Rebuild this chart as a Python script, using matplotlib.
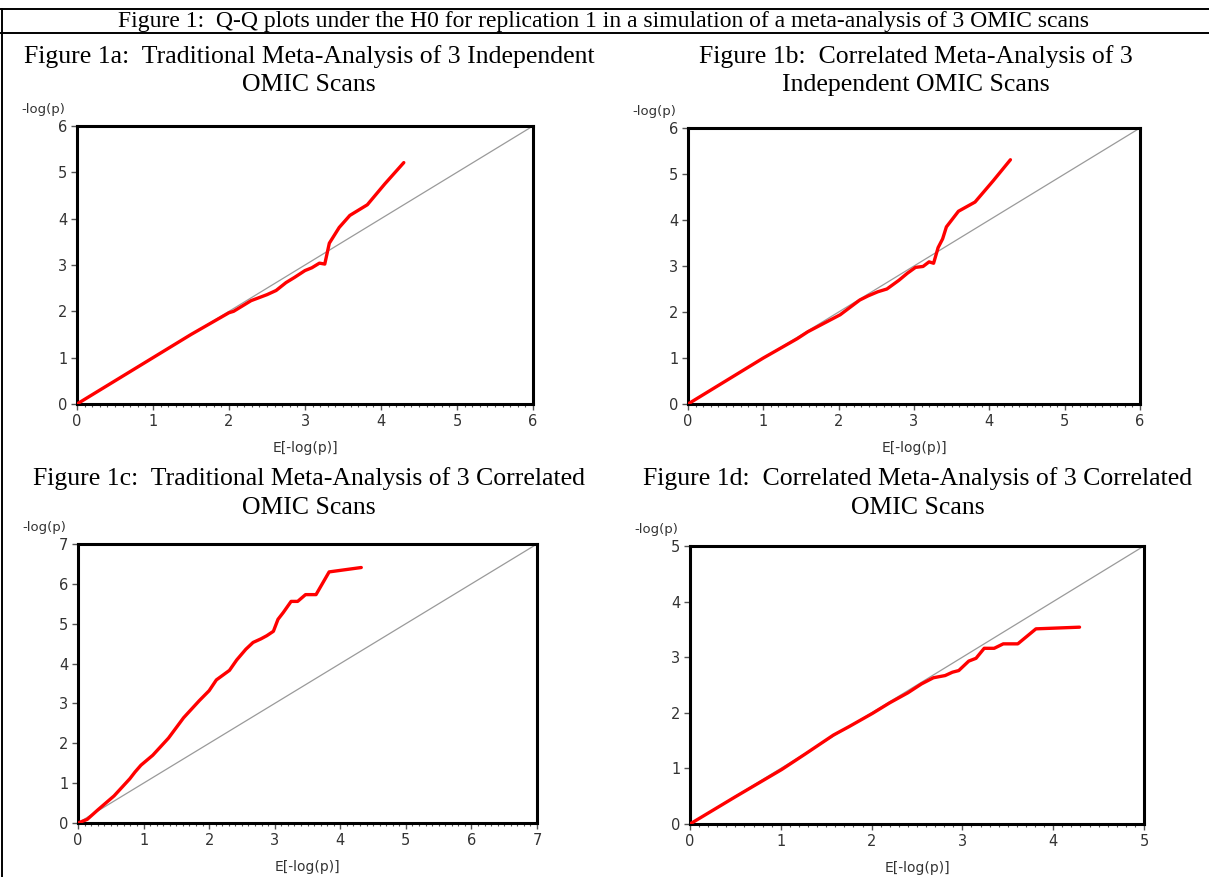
import matplotlib
matplotlib.use("Agg")
import matplotlib.pyplot as plt
import matplotlib.ticker as mticker
from matplotlib.lines import Line2D

W, H = 1209, 877

main_title = "Figure 1:  Q-Q plots under the H0 for replication 1 in a simulation of a meta-analysis of 3 OMIC scans"
panel_titles = [
    "Figure 1a:  Traditional Meta-Analysis of 3 Independent\nOMIC Scans",
    "Figure 1b:  Correlated Meta-Analysis of 3\nIndependent OMIC Scans",
    "Figure 1c:  Traditional Meta-Analysis of 3 Correlated\nOMIC Scans",
    "Figure 1d:  Correlated Meta-Analysis of 3 Correlated\nOMIC Scans",
]
axis_max = [6, 6, 7, 5]

qq_a_x = [0, 0.5, 1.0, 1.5, 2.0, 2.06, 2.29, 2.5, 2.62, 2.75, 2.86, 3.0, 3.09, 3.19, 3.26,
          3.32, 3.45, 3.59, 3.82, 4.05, 4.30]
qq_a_y = [0, 0.5, 1.0, 1.5, 1.97, 2.0, 2.23, 2.36, 2.45, 2.62, 2.73, 2.88, 2.94, 3.04, 3.02,
          3.47, 3.81, 4.07, 4.30, 4.75, 5.21]

qq_b_x = [0, 0.5, 1.0, 1.45, 1.59, 2.02, 2.28, 2.39, 2.52, 2.64, 2.8, 2.91, 3.02, 3.12, 3.2,
          3.26, 3.32, 3.38, 3.43, 3.59, 3.81, 4.05, 4.28]
qq_b_y = [0, 0.5, 1.0, 1.42, 1.57, 1.94, 2.26, 2.35, 2.44, 2.50, 2.69, 2.84, 2.97, 2.99, 3.09,
          3.06, 3.40, 3.59, 3.85, 4.19, 4.39, 4.85, 5.31]

qq_c_x = [0, 0.14, 0.31, 0.55, 0.79, 0.87, 0.96, 1.14, 1.38, 1.61, 1.85, 2.0, 2.11, 2.31, 2.42,
          2.56, 2.67, 2.79, 2.88, 2.98, 3.05, 3.13, 3.25, 3.35, 3.47, 3.63, 3.83, 4.32]
qq_c_y = [0, 0.09, 0.34, 0.68, 1.11, 1.28, 1.45, 1.70, 2.13, 2.64, 3.07, 3.32, 3.59, 3.83, 4.09,
          4.36, 4.53, 4.62, 4.70, 4.81, 5.11, 5.28, 5.56, 5.56, 5.73, 5.73, 6.30, 6.41]

qq_d_x = [0, 0.5, 1.01, 1.27, 1.58, 1.75, 2.01, 2.20, 2.40, 2.55, 2.68, 2.81, 2.89, 2.96, 3.07,
          3.15, 3.24, 3.35, 3.45, 3.61, 3.81, 4.29]
qq_d_y = [0, 0.49, 0.98, 1.26, 1.60, 1.75, 1.99, 2.18, 2.36, 2.52, 2.63, 2.67, 2.73, 2.76, 2.93,
          2.98, 3.16, 3.16, 3.24, 3.24, 3.51, 3.54]

qq_x = [qq_a_x, qq_b_x, qq_c_x, qq_d_x]
qq_y = [qq_a_y, qq_b_y, qq_c_y, qq_d_y]

# axes boxes in pixels: left, right, top, bottom
boxes = [(77, 533, 126, 404), (688, 1140, 128, 404), (78, 537, 544, 823), (690, 1144, 546, 824)]
# text baselines of the two title lines, in pixels
title_base = [(63, 91), (63, 91), (485, 514), (485, 514)]
title_x = [309, 916, 309, 918]

serif = "Liberation Serif"
sans = "DejaVu Sans"
tick_col = "#333333"

fig = plt.figure(figsize=(W / 100, H / 100), dpi=100)


def fx(px):
    return px / W


def fy(py):
    return 1 - py / H


# table borders
fig.add_artist(Line2D([fx(2), fx(2)], [fy(9), 0], color="black", lw=1.4))
fig.add_artist(Line2D([0, 1], [fy(9), fy(9)], color="black", lw=1.4))
fig.add_artist(Line2D([0, 1], [fy(33), fy(33)], color="black", lw=1.4))

fig.text(fx(604), fy(27), main_title, ha="center", va="baseline", fontsize=17, family=serif)

for i in range(4):
    l, r, t, b = boxes[i]
    ax = fig.add_axes([fx(l), fy(b), fx(r - l), (b - t) / H])
    m = axis_max[i]

    lines = panel_titles[i].split("\n")
    for k in range(2):
        fig.text(fx(title_x[i]), fy(title_base[i][k]), lines[k], ha="center", va="baseline",
                 fontsize=18.5, family=serif)

    ax.plot([0, m], [0, m], color="#9a9a9a", lw=0.9, zorder=2)
    ax.plot(qq_x[i], qq_y[i], color="#ff0000", lw=2.4, zorder=3, solid_capstyle="round")

    ax.set_xlim(0, m)
    ax.set_ylim(0, m)
    ax.set_xticks(range(m + 1))
    ax.set_yticks(range(m + 1))
    ax.xaxis.set_minor_locator(mticker.MultipleLocator(0.1))
    ax.tick_params(axis="both", which="major", direction="out", length=4, width=1,
                   color="#555555", labelsize=10.5, labelcolor=tick_col, pad=3)
    ax.tick_params(axis="x", which="minor", direction="out", length=2.5, width=0.8,
                   color="#555555")
    for s in ax.spines.values():
        s.set_linewidth(2.2)
        s.set_color("black")

    ax.set_xlabel("E[-log(p)]", fontsize=10, color=tick_col, family=sans, labelpad=9)
    fig.text(fx(l - 34), fy(t - 16), "-log(p)", ha="center", va="center",
             fontsize=9.5, color=tick_col, family=sans)

fig.savefig("out.png", dpi=100)
